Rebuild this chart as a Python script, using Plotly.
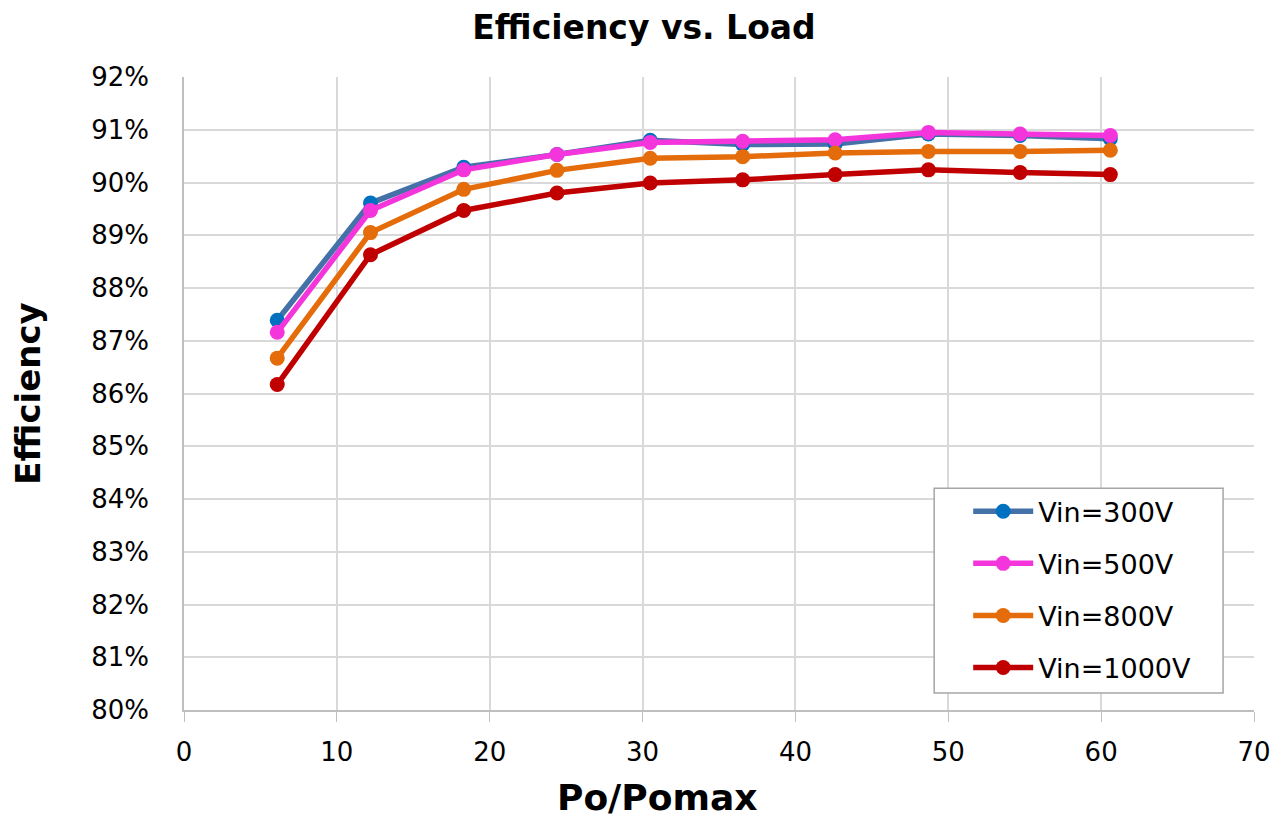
import plotly.graph_objects as go

# Load points (Po/Pomax) shared by all input-voltage curves
load = [6.1, 12.2, 18.3, 24.4, 30.5, 36.55, 42.6, 48.7, 54.7, 60.6]

# Efficiency in percent for each input voltage
eff_300 = [87.39, 89.61, 90.29, 90.53, 90.80, 90.72, 90.73, 90.92, 90.89, 90.83]
eff_500 = [87.16, 89.47, 90.24, 90.53, 90.76, 90.78, 90.81, 90.95, 90.92, 90.89]
eff_800 = [86.67, 89.05, 89.87, 90.23, 90.46, 90.49, 90.56, 90.59, 90.59, 90.61]
eff_1000 = [86.17, 88.63, 89.47, 89.80, 89.99, 90.05, 90.15, 90.24, 90.19, 90.15]

series = [
    ("Vin=300V", eff_300, "#4472A8", "#0070C0"),
    ("Vin=500V", eff_500, "#F535DC", "#F535DC"),
    ("Vin=800V", eff_800, "#E46C0A", "#E46C0A"),
    ("Vin=1000V", eff_1000, "#C00000", "#C00000"),
]

FONT = "DejaVu Sans, sans-serif"

fig = go.Figure()
for i, (name, vals, lcol, mcol) in enumerate(series):
    fig.add_trace(go.Scatter(
        x=load, y=vals, name=name, mode="lines+markers",
        line=dict(color=lcol, width=5.5),
        marker=dict(color=mcol, size=15),
        legendgroup=f"g{i}",
    ))

# Framed white box behind the legend entries
fig.add_shape(type="rect", xref="paper", yref="paper",
              x0=0.7011, x1=0.9711, y0=0.0268, y1=0.3504,
              line=dict(color="#A6A6A6", width=1.5), fillcolor="white",
              layer="above")

# x-axis title, placed as a free annotation below the tick labels
fig.add_annotation(text="<b>Po/Pomax</b>", xref="paper", yref="paper",
                   x=0.4423, y=-0.139, xanchor="center", yanchor="middle",
                   showarrow=False, font=dict(size=36, family=FONT))

fig.update_layout(
    width=1288, height=818,
    margin=dict(l=184, r=34, t=77, b=108),
    paper_bgcolor="white", plot_bgcolor="white",
    font=dict(family=FONT, size=26, color="black"),
    title=dict(text="<b>Efficiency vs. Load</b>", x=0.5, xanchor="center",
               y=0.966, yanchor="middle", font=dict(size=33)),
    showlegend=True,
    legend=dict(x=0.7329, y=0.352, xanchor="left", yanchor="top",
                borderwidth=0, bgcolor="rgba(0,0,0,0)",
                font=dict(size=27), tracegroupgap=14, itemwidth=60),
    xaxis=dict(range=[0, 70], dtick=10, tick0=0, showgrid=True,
               gridcolor="#D9D9D9", gridwidth=1.5, zeroline=False,
               showline=True, linecolor="#BFBFBF", linewidth=1.5,
               ticks="outside", ticklen=10, tickcolor="#BFBFBF",
               tickfont=dict(size=26), ticklabelstandoff=8,
               automargin=False),
    yaxis=dict(range=[80, 92], dtick=1, tick0=80, ticksuffix="%",
               showgrid=True, gridcolor="#D9D9D9", gridwidth=1.5,
               zeroline=False, showline=True, linecolor="#BFBFBF",
               linewidth=1.5, ticks="", tickfont=dict(size=26),
               ticklabelstandoff=28, automargin=False,
               title=dict(text="<b>Efficiency</b>", font=dict(size=34), standoff=40)),
)

fig.write_html("out.html")
